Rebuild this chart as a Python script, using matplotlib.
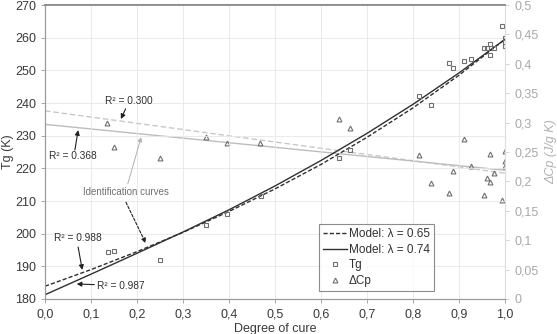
import matplotlib
matplotlib.use("Agg")
import matplotlib.pyplot as plt

plt.rcParams['font.family'] = ['Liberation Sans', 'DejaVu Sans']

# Tg measurements (squares) - degree of cure / Tg in K
tg_x = [0.136, 0.149, 0.251, 0.349, 0.395, 0.469, 0.639, 0.663, 0.812, 0.839,
        0.879, 0.886, 0.912, 0.927, 0.954, 0.962, 0.967, 0.967, 0.976, 0.993,
        0.999, 0.999, 0.999]
tg_y = [194.5, 194.8, 192.0, 202.6, 205.9, 211.6, 223.3, 225.5, 242.2, 239.5,
        252.4, 250.8, 253.0, 253.4, 256.8, 256.7, 258.0, 254.6, 256.9, 263.7,
        259.8, 258.6, 257.4]

# delta Cp measurements (triangles), J/g K, right axis
cp_x = [0.135, 0.149, 0.251, 0.349, 0.395, 0.468, 0.639, 0.663, 0.812, 0.839,
        0.879, 0.886, 0.912, 0.926, 0.954, 0.962, 0.967, 0.968, 0.976, 0.993,
        0.999, 0.999, 0.999]
cp_y = [0.300, 0.259, 0.240, 0.276, 0.265, 0.266, 0.306, 0.290, 0.245, 0.197,
        0.181, 0.218, 0.272, 0.227, 0.177, 0.205, 0.199, 0.247, 0.214, 0.168,
        0.251, 0.234, 0.227]

# model curves
model_x = [0.0, 0.1, 0.2, 0.3, 0.4, 0.5, 0.6, 0.7, 0.8, 0.9, 1.0]
model_065 = [183.9, 189.0, 194.5, 200.4, 206.8, 213.7, 221.2, 229.5, 238.5, 248.5, 259.5]
model_074 = [181.3, 187.6, 194.0, 200.5, 207.3, 214.6, 222.4, 230.7, 239.6, 249.2, 259.5]

# linear trend lines for delta Cp
trend_x = [0.0, 1.0]
trend_dash = [0.320, 0.214]
trend_solid = [0.297, 0.219]

xticks = [0.0, 0.1, 0.2, 0.3, 0.4, 0.5, 0.6, 0.7, 0.8, 0.9, 1.0]
xlabels = ['0,0', '0,1', '0,2', '0,3', '0,4', '0,5', '0,6', '0,7', '0,8', '0,9', '1,0']
cp_ticks = [0, 0.05, 0.1, 0.15, 0.2, 0.25, 0.3, 0.35, 0.4, 0.45, 0.5]
cp_labels = ['0', '0,05', '0,1', '0,15', '0,2', '0,25', '0,3', '0,35', '0,4', '0,45', '0,5']

fig = plt.figure(figsize=(5.57, 3.34), dpi=100)
ax = fig.add_axes([0.0808, 0.1048, 0.8258, 0.8802])
ax2 = ax.twinx()

grid_c = '#e6e6e6'
for v in xticks:
    ax.axvline(v, color=grid_c, lw=0.6, zorder=0)
for v in range(180, 271, 10):
    ax.axhline(v, color=grid_c, lw=0.6, zorder=0)

# model curves
l1, = ax.plot(model_x, model_065, color='#303030', lw=1.0, ls=(0, (3, 1.5)), label='Model: λ = 0.65')
l2, = ax.plot(model_x, model_074, color='#303030', lw=1.0, label='Model: λ = 0.74')
l3, = ax.plot(tg_x, tg_y, ls='none', marker='s', ms=3.2, mfc='none', mec='#707070', mew=0.8, label='Tg')

# delta Cp on right axis
ax2.plot(trend_x, trend_dash, color='#c8c8c8', lw=1.0, ls=(0, (4, 2)))
ax2.plot(trend_x, trend_solid, color='#bdbdbd', lw=1.0)
l4, = ax2.plot(cp_x, cp_y, ls='none', marker='^', ms=3.5, mfc='none', mec='#707070', mew=0.8, label='ΔCp')

ax.set_xlim(0, 1.0)
ax.set_ylim(180, 270)
ax2.set_ylim(0, 0.5)

ax.set_xticks(xticks)
ax.set_xticklabels(xlabels)
ax.set_yticks(range(180, 271, 10))
ax2.set_yticks(cp_ticks)
ax2.set_yticklabels(cp_labels)

ax.tick_params(axis='both', labelsize=9, colors='#999999', labelcolor='#3a3a3a', length=3, width=0.6)
ax2.tick_params(axis='y', labelsize=9, colors='#cccccc', labelcolor='#a8a8a8', length=3, width=0.6)

for a in (ax, ax2):
    a.spines['top'].set_color('#8a8a8a')
    a.spines['top'].set_linewidth(1.2)
    a.spines['left'].set_color('#9a9a9a')
    a.spines['bottom'].set_color('#9a9a9a')
    a.spines['right'].set_color('#dddddd')

ax.set_ylabel('Tg (K)', fontsize=9, color='#3a3a3a')
ax.yaxis.set_label_coords(-0.068, 0.5)
ax2.set_ylabel('ΔCp (J/g K)', fontsize=9, color='#b0b0b0', style='italic', labelpad=5)
ax.set_xlabel('Degree of cure', fontsize=9, color='#3a3a3a', labelpad=2)

# annotations
arr = dict(arrowstyle='-|>', color='#202020', lw=0.8, mutation_scale=7, shrinkA=0, shrinkB=0)
ax.annotate('R² = 0.300', xy=(0.165, 235.1), xytext=(0.183, 240.6), fontsize=7.3,
            color='#303030', ha='center', va='center', arrowprops=arr)
ax.annotate('', xy=(0.072, 231.7), xytext=(0.065, 225.6), arrowprops=arr)
ax.text(0.06, 223.8, 'R² = 0.368', fontsize=7.3, color='#303030', ha='center', va='center')
ax.text(0.176, 212.7, 'Identification curves', fontsize=7, color='#707070', ha='center', va='center')
ax.annotate('', xy=(0.209, 229.5), xytext=(0.18, 215.3),
            arrowprops=dict(arrowstyle='-|>', color='#b0b0b0', lw=0.7, mutation_scale=6, shrinkA=0, shrinkB=0))
ax.annotate('', xy=(0.219, 197.1), xytext=(0.176, 209.6),
            arrowprops=dict(arrowstyle='-|>', color='#202020', lw=0.8, ls=(0, (2.5, 1.5)),
                            mutation_scale=7, shrinkA=0, shrinkB=0))
ax.text(0.072, 198.6, 'R² = 0.988', fontsize=7.3, color='#303030', ha='center', va='center')
ax.annotate('', xy=(0.081, 188.9), xytext=(0.072, 195.9), arrowprops=arr)
ax.annotate('R² = 0.987', xy=(0.069, 184.6), xytext=(0.165, 184.1), fontsize=7.3,
            color='#303030', ha='center', va='center', arrowprops=arr)

leg = ax.legend(handles=[l1, l2, l3, l4], loc='lower left', bbox_to_anchor=(0.596, 0.027),
                fontsize=8.5, frameon=True, fancybox=False, handlelength=2.0,
                borderpad=0.35, labelspacing=0.3, handletextpad=0.15, borderaxespad=0)
leg.get_frame().set_edgecolor('#707070')
leg.get_frame().set_linewidth(0.8)
for t in leg.get_texts():
    t.set_color('#303030')
leg.set_zorder(5)
ax.set_zorder(ax2.get_zorder() + 1)
ax.patch.set_visible(False)

fig.savefig('out.png', dpi=100)
